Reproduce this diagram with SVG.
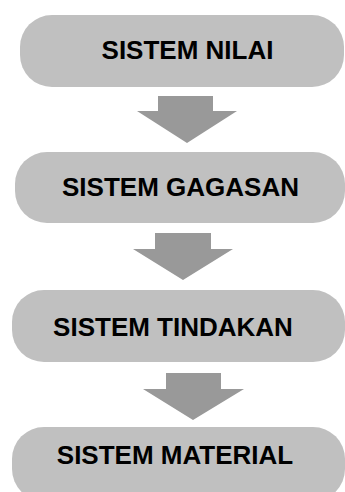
<svg xmlns="http://www.w3.org/2000/svg" width="345" height="492" viewBox="0 0 345 492">
<style>
.box{fill:#c0c0c0}
.arr{fill:#999999}
.t{font-family:"Liberation Sans",Arial,sans-serif;font-weight:bold;font-size:26px;fill:#000;text-anchor:middle}
</style>
<rect width="345" height="492" fill="#ffffff"/>
<g id="connectors">
<polygon class="arr" points="158,96 213,96 213,111 237,111 187,143 137,111 158,111"/>
<polygon class="arr" points="155,233 211,233 211,249 233,249 183,280 133,249 155,249"/>
<polygon class="arr" points="166,373 221,373 221,389 244,389 193,420 143,389 166,389"/>
</g>
<g id="node1"><rect class="box" x="20" y="15" width="324" height="72" rx="32" ry="32"/><text class="t" x="187.5" y="59">SISTEM NILAI</text></g>
<g id="node2"><rect class="box" x="15" y="152" width="330" height="71" rx="32" ry="32"/><text class="t" x="180.5" y="196">SISTEM GAGASAN</text></g>
<g id="node3"><rect class="box" x="12" y="290" width="333" height="72" rx="32" ry="32"/><text class="t" x="173" y="336">SISTEM TINDAKAN</text></g>
<g id="node4"><rect class="box" x="12" y="427" width="333" height="74" rx="32" ry="32"/><text class="t" x="175" y="464">SISTEM MATERIAL</text></g>
</svg>
